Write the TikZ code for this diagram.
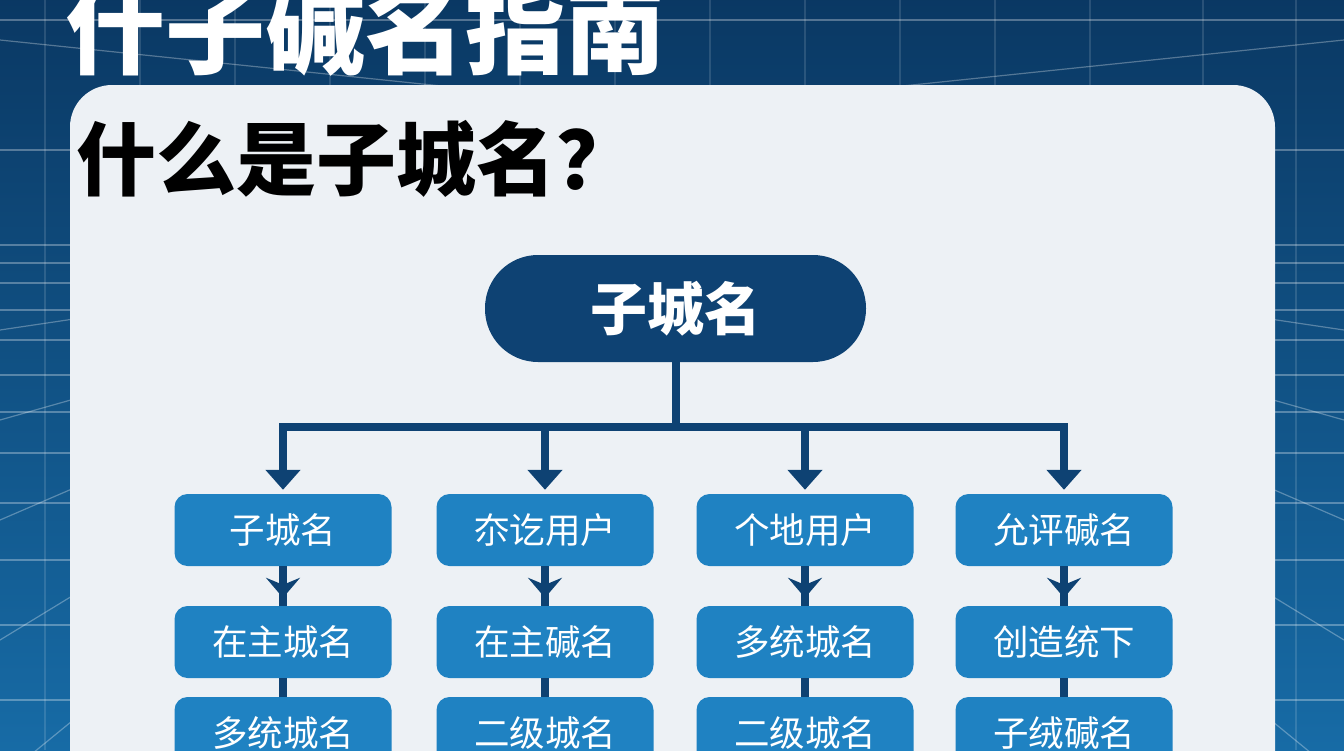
\documentclass[tikz,border=0pt]{standalone}
\usepackage{fontspec}
\newfontfamily\cjk{Noto Sans CJK SC}
\usepackage{tikz}
\usetikzlibrary{arrows.meta}
\definecolor{bgtop}{rgb}{0.04,0.22,0.39}
\definecolor{bgbot}{rgb}{0.09,0.42,0.65}
\definecolor{panelgray}{rgb}{0.93,0.945,0.96}
\definecolor{rootblue}{rgb}{0.055,0.26,0.45}
\definecolor{leafblue}{rgb}{0.12,0.51,0.76}

\begin{document}
\begin{tikzpicture}[x=1pt,y=-1pt,
  leaf/.style={rectangle,rounded corners=13pt,fill=leafblue,text=white,
    minimum width=217pt,minimum height=72pt,inner sep=0pt,
    font=\cjk\fontsize{35.5}{36}\selectfont},
  rootbox/.style={rectangle,rounded corners=53pt,fill=rootblue,text=white,
    minimum width=381pt,minimum height=107pt,inner sep=0pt,
    font=\cjk\bfseries\fontsize{57}{57}\selectfont},
  link/.style={draw=rootblue,line width=8pt},
  gridline/.style={white,opacity=0.13,line width=1.2pt},
  sideline/.style={white,opacity=0.3,line width=1.2pt}]
\useasboundingbox (0,0) rectangle (1344,750);
\clip (0,0) rectangle (1344,750);
% background and grid
\shade[top color=bgtop,bottom color=bgbot] (0,0) rectangle (1344,750);
\foreach \x in {45,140,235,330,425,520,615,710,805,900,995,1090,1203,1296}
  \draw[gridline] (\x,0) -- (\x,750);
\foreach \y in {20,150,245,263,283,310,340,375,412,453,503,560,625,700}
  \draw[sideline] (0,\y) -- (1344,\y);
\foreach \y in {330,420,520,640,780,950}
  \draw[sideline] (672,230) -- (0,\y) (672,230) -- (1344,\y);
\draw[sideline] (0,40) -- (672,110) -- (1344,40);
% panel
\fill[panelgray,rounded corners=42pt] (70,85) rectangle (1275,820);
% titles
\node[anchor=base west,inner sep=0pt,text=white,font=\cjk\bfseries\fontsize{100}{100}\selectfont] (title) at (65,66) {什子碱名指南};
\node[anchor=base west,inner sep=0pt,text=black,font=\cjk\bfseries\fontsize{80}{80}\selectfont] (question) at (76,189) {什么是子城名？};
% tree
\node[rootbox] (root) at (675.5,308.5) {子城名};
\coordinate (bar) at (675.5,427);
\foreach \i/\xc/\ta/\tb/\tc in {1/283/子城名/在主城名/多统城名,
    2/545/夵讫用户/在主碱名/二级城名,
    3/805/个地用户/多统城名/二级城名,
    4/1064/允评碱名/创造统下/子绒碱名}{
  \node[leaf] (b\i a) at (\xc,530) {\ta};
  \node[leaf] (b\i b) at (\xc,642) {\tb};
  \node[leaf] (b\i c) at (\xc,733) {\tc};
}
\draw[link] (root.south) -- (bar);
\draw[link,line cap=rect] (b1a |- bar) -- (b4a |- bar);
\foreach \i in {1,2,3,4}{
  \draw[link,-{Triangle[width=34pt,length=20pt]}] (b\i a |- bar) -- ([yshift=4pt]b\i a.north);
  \draw[link] (b\i a.south) -- (b\i b.north);
  \draw[link,-{Stealth[width=34pt,length=20pt,inset=7pt]},shorten >=8pt] (b\i a.south) -- (b\i b.north);
  \draw[link] (b\i b.south) -- (b\i c.north);
}
\end{tikzpicture}
\end{document}
